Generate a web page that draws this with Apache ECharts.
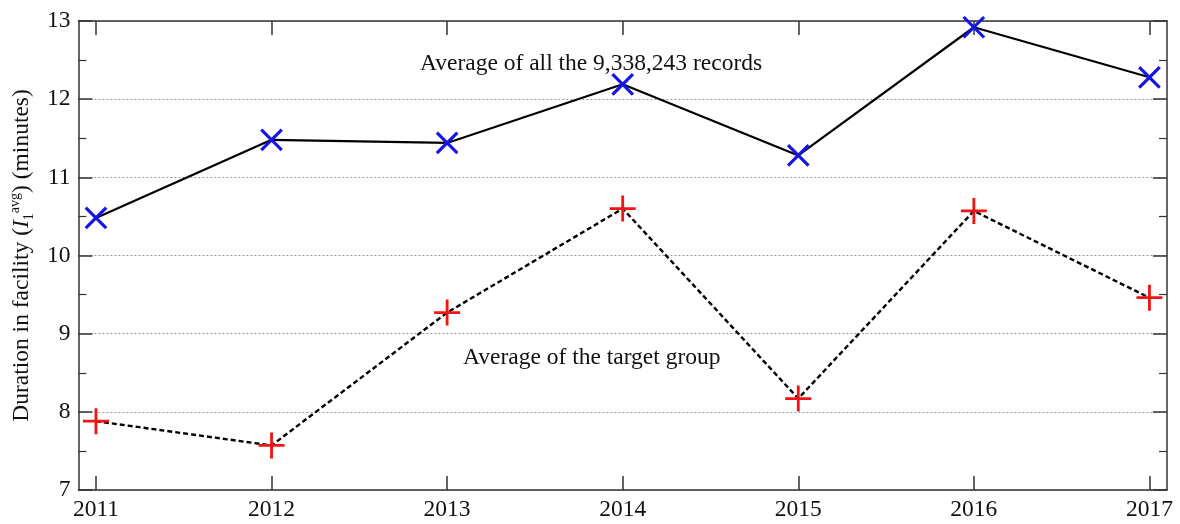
<!DOCTYPE html>
<html>
<head>
<meta charset="utf-8">
<script src="https://cdn.jsdelivr.net/npm/echarts@6/dist/echarts.min.js"></script>
<style>
  html, body { margin: 0; padding: 0; background: #fff; }
  #chart-wrapper { width: 1180px; height: 524px; }
</style>
</head>
<body>
<div id="chart-wrapper"></div>
<script>
// years on the x axis
const years = [2011, 2012, 2013, 2014, 2015, 2016, 2017];
// average duration of all records (minutes)
const allRecords = [10.48, 11.48, 11.44, 12.19, 11.28, 12.92, 12.28];
// average duration of the target group (minutes)
const targetGroup = [7.88, 7.57, 9.27, 10.6, 8.17, 10.57, 9.46];

const FONT = "Liberation Serif";
const AXIS_COLOR = "#333";

const plusPath = "path://M0,10.7H24V13.3H0ZM10.7,0H13.3V24H10.7Z";

const chartDom = document.getElementById("chart-wrapper");
const chart = echarts.init(chartDom);

const xBase = {
  type: "value",
  min: 2010.9,
  max: 2017.1,
  axisLine: { show: true, onZero: false, lineStyle: { color: AXIS_COLOR, width: 1.5 } },
  axisTick: { show: true, inside: true, length: 14, customValues: years, lineStyle: { color: AXIS_COLOR, width: 1.5 } },
  splitLine: { show: false },
};

const yBase = {
  type: "value",
  min: 7,
  max: 13,
  interval: 1,
  axisLine: { show: true, lineStyle: { color: AXIS_COLOR, width: 1.5 } },
  axisTick: { show: true, inside: true, length: 14, lineStyle: { color: AXIS_COLOR, width: 1.5 } },
  minorTick: { show: true, splitNumber: 2, length: 8, lineStyle: { color: AXIS_COLOR, width: 1.2 } },
};

const option = {
  backgroundColor: "#fff",
  animation: false,
  grid: { left: 78, right: 13, top: 21, bottom: 34 },
  xAxis: [
    Object.assign({}, xBase, {
      position: "bottom",
      axisLabel: {
        customValues: years,
        margin: 8,
        fontFamily: FONT,
        fontSize: 23.5,
        color: "#111",
        formatter: (v) => String(v),
      },
    }),
    Object.assign({}, xBase, { position: "top", axisLabel: { show: false } }),
  ],
  yAxis: [
    Object.assign({}, yBase, {
      position: "left",
      splitLine: { show: true, lineStyle: { color: "#999", type: [2, 2], width: 1 } },
      axisLabel: { margin: 8, fontFamily: FONT, fontSize: 23.5, color: "#111", showMinLabel: true, showMaxLabel: true },
      name: "{t|Duration in facility (}{i|I}{sub|1}{sup|avg}{t|) (minutes)}",
      nameLocation: "middle",
      nameGap: 38,
      nameTextStyle: {
        fontFamily: FONT,
        fontSize: 23.5,
        color: "#111",
        rich: {
          t: { fontFamily: FONT, fontSize: 23.5, color: "#111" },
          i: { fontFamily: FONT, fontSize: 23.5, fontStyle: "italic", color: "#111" },
          sub: { fontFamily: FONT, fontSize: 14, color: "#111", verticalAlign: "bottom", lineHeight: 28 },
          sup: { fontFamily: FONT, fontSize: 14, color: "#111", verticalAlign: "top", lineHeight: 28 },
        },
      },
    }),
    Object.assign({}, yBase, {
      position: "right",
      splitLine: { show: false },
      axisLabel: { show: false },
    }),
  ],
  series: [
    {
      name: "Average of all records",
      type: "line",
      data: years.map((y, i) => [y, allRecords[i]]),
      lineStyle: { color: "#000", width: 2.2 },
      symbol: plusPath,
      symbolSize: 29,
      symbolRotate: 45,
      itemStyle: { color: "#1414e6" },
      z: 3,
    },
    {
      name: "Average of the target group",
      type: "line",
      data: years.map((y, i) => [y, targetGroup[i]]),
      lineStyle: { color: "#000", width: 2.4, type: [5, 3] },
      symbol: plusPath,
      symbolSize: 26,
      itemStyle: { color: "#f01414" },
      z: 3,
    },
  ],
  graphic: [
    {
      type: "text",
      left: 420,
      top: 52,
      style: { text: "Average of all the 9,338,243 records", fontFamily: FONT, fontSize: 23.5, fill: "#111" },
    },
    {
      type: "text",
      left: 463,
      top: 346,
      style: { text: "Average of the target group", fontFamily: FONT, fontSize: 23.5, fill: "#111" },
    },
  ],
};

chart.setOption(option);
</script>
</body>
</html>
